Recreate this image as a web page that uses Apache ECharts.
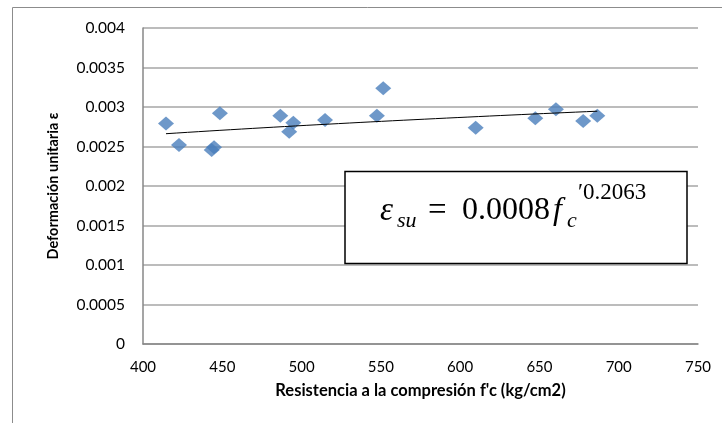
<!DOCTYPE html>
<html>
<head>
<meta charset="utf-8">
<script src="https://cdn.jsdelivr.net/npm/echarts@6/dist/echarts.min.js"></script>
<style>
  html, body { margin: 0; padding: 0; background: #fff; }
  #chart { width: 722px; height: 423px; }
</style>
</head>
<body>
<div id="chart"></div>
<script>
// resistencia f'c (kg/cm2) y deformación unitaria medida
const resistencia = [414.5, 422.7, 443.3, 444.8, 448.5, 486.6, 492.2, 494.8, 514.8, 547.5, 551.5, 609.8, 647.4, 660.4, 677.6, 686.5];
const deformacion = [0.00279, 0.00252, 0.002456, 0.00249, 0.00292, 0.00289, 0.002687, 0.0028, 0.002835, 0.00289, 0.003237, 0.002738, 0.002857, 0.00297, 0.002823, 0.00289];

const xTicks = [400, 450, 500, 550, 600, 650, 700, 750];
const yTicks = [0, 0.0005, 0.001, 0.0015, 0.002, 0.0025, 0.003, 0.0035, 0.004];

// línea de tendencia potencial ajustada a los datos (mínimos cuadrados en log-log)
function powerFit(xs, ys) {
  const n = xs.length;
  let sx = 0, sy = 0, sxx = 0, sxy = 0;
  for (let i = 0; i < n; i++) {
    const lx = Math.log(xs[i]), ly = Math.log(ys[i]);
    sx += lx; sy += ly; sxx += lx * lx; sxy += lx * ly;
  }
  const b = (n * sxy - sx * sy) / (n * sxx - sx * sx);
  const a = Math.exp((sy - b * sx) / n);
  return { a, b };
}
const fit = powerFit(resistencia, deformacion);
const xMin = Math.min(...resistencia), xMax = Math.max(...resistencia);
const trend = [];
for (let i = 0; i <= 40; i++) {
  const x = xMin + (xMax - xMin) * i / 40;
  trend.push([x, fit.a * Math.pow(x, fit.b)]);
}

const chart = echarts.init(document.getElementById('chart'));
const labelFont = 'Lato, "Open Sans", sans-serif';
const mathFont = '"Liberation Serif", "DejaVu Serif", serif';

chart.setOption({
  animation: false,
  grid: { left: 143, right: 24, top: 28, bottom: 79 },
  xAxis: {
    type: 'value',
    min: xTicks[0],
    max: xTicks[xTicks.length - 1],
    interval: 50,
    name: "Resistencia a la compresión f'c (kg/cm2)",
    nameLocation: 'middle',
    nameGap: 38,
    nameTextStyle: { fontFamily: labelFont, fontWeight: 'bold', fontSize: 16.5, color: '#000' },
    axisLine: { lineStyle: { color: '#878787', width: 1.5 } },
    axisTick: { show: false },
    axisLabel: { margin: 16, fontFamily: labelFont, fontSize: 15, color: '#000' },
    splitLine: { show: false }
  },
  yAxis: {
    type: 'value',
    min: yTicks[0],
    max: yTicks[yTicks.length - 1],
    interval: 0.0005,
    name: 'Deformación unitaria ε',
    nameLocation: 'middle',
    nameGap: 82,
    nameTextStyle: { fontFamily: labelFont, fontWeight: 'bold', fontSize: 14.5, color: '#000' },
    axisLine: { show: true, lineStyle: { color: '#878787', width: 1.5 } },
    axisTick: { show: false },
    axisLabel: {
      margin: 18, fontFamily: labelFont, fontSize: 15.5, color: '#000',
      formatter: v => String(+v.toFixed(4))
    },
    splitLine: { lineStyle: { color: '#a6a6a6', width: 1.5 } }
  },
  series: [
    {
      type: 'scatter',
      data: resistencia.map((x, i) => [x, deformacion[i]]),
      symbol: 'diamond',
      symbolSize: [16, 14],
      itemStyle: { color: '#4a7ebb' },
      z: 2
    },
    {
      type: 'line',
      data: trend,
      showSymbol: false,
      lineStyle: { color: '#000', width: 1 },
      z: 3
    }
  ],
  graphic: [
    {
      type: 'rect',
      shape: { x: 12.5, y: 7.5, width: 760, height: 460 },
      style: { fill: 'none', stroke: '#8c8c8c', lineWidth: 1 },
      silent: true, z: 0
    },
    {
      type: 'rect',
      shape: { x: 345, y: 171.5, width: 342, height: 92 },
      style: { fill: '#fff', stroke: '#000', lineWidth: 1.5 },
      z: 10
    },
    { type: 'text', x: 380, y: 211, z: 11, style: { text: 'ε', font: 'italic 33px ' + mathFont, fill: '#000', verticalAlign: 'middle' } },
    { type: 'text', x: 397, y: 221, z: 11, style: { text: 'su', font: 'italic 22px ' + mathFont, fill: '#000', verticalAlign: 'middle' } },
    { type: 'text', x: 428, y: 211, z: 11, style: { text: '=', font: '33px ' + mathFont, fill: '#000', verticalAlign: 'middle' } },
    { type: 'text', x: 462, y: 211, z: 11, style: { text: '0.0008', font: '32px ' + mathFont, fill: '#000', verticalAlign: 'middle' } },
    { type: 'text', x: 553, y: 211, z: 11, style: { text: 'f', font: 'italic 32px ' + mathFont, fill: '#000', verticalAlign: 'middle' } },
    { type: 'text', x: 567, y: 221, z: 11, style: { text: 'c', font: 'italic 22px ' + mathFont, fill: '#000', verticalAlign: 'middle' } },
    { type: 'text', x: 578, y: 193, z: 11, style: { text: '′0.2063', font: '23px ' + mathFont, fill: '#000', verticalAlign: 'middle' } }
  ]
});
</script>
</body>
</html>
